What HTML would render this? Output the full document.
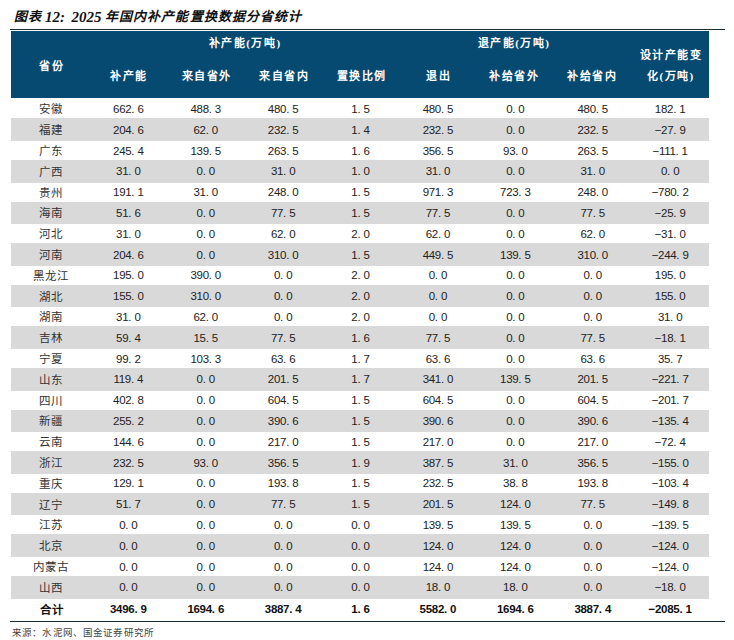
<!DOCTYPE html>
<html lang="zh-CN"><head><meta charset="utf-8">
<style>
*{margin:0;padding:0;box-sizing:border-box}
html,body{width:734px;height:640px;background:#fff;overflow:hidden}
body{position:relative;font-family:"Liberation Sans",sans-serif;color:#222}
.abs{position:absolute}
.title{position:absolute;left:0;top:7px;width:400px;height:20px;font-family:"Liberation Serif",serif;font-weight:bold;font-style:italic;font-size:14.5px;line-height:20px;color:#111;white-space:nowrap}
.title span{position:absolute;top:0}
.t1{left:14px;font-size:13px;letter-spacing:0.5px}
.t2{left:45px;font-size:15px}
.t3{left:71.5px;font-size:15px}
.t4{left:105px;font-size:13px;letter-spacing:1.1px}
.line{position:absolute;height:1px;background:#1c2e35}
.head{position:absolute;left:11px;top:31px;width:698px;height:67px;background:#064a72}
.h{position:absolute;color:#fff;font-family:"Liberation Serif",serif;font-weight:bold;font-size:11px;line-height:14px;text-align:center;white-space:nowrap;letter-spacing:1.5px}
.g{position:absolute;left:11px;width:698px;background:#d9d9d9}
.c{position:absolute;text-align:center;white-space:nowrap;font-size:12px;line-height:14px;color:#222}
.n{letter-spacing:-0.3px;font-size:11.5px}
.p{display:inline-block;width:6.1px;text-align:left}
.cn{font-family:"Liberation Serif",serif;font-size:11.5px;letter-spacing:1.0px;font-size:11.5px;color:#333}
.b{font-weight:bold;color:#111}
.src{position:absolute;left:12px;top:626.5px;font-family:"Liberation Serif",serif;font-size:9.5px;line-height:12px;color:#444;letter-spacing:0.15px;white-space:nowrap}
</style></head><body>

<div class="title"><span class="t1">图表</span><span class="t2">12:</span><span class="t3">2025</span><span class="t4">年国内补产能置换数据分省统计</span></div>
<div class="line" style="left:10px;top:29px;width:715px"></div>
<div class="head"></div>
<div class="h" style="left:-8.20px;top:58.50px;width:120px">省份</div>
<div class="h" style="left:185.15px;top:36.00px;width:120px">补产能(万吨)</div>
<div class="h" style="left:454.10px;top:36.00px;width:120px">退产能(万吨)</div>
<div class="h" style="left:69.20px;top:69.30px;width:120px">补产能</div>
<div class="h" style="left:146.90px;top:69.30px;width:120px">来自省外</div>
<div class="h" style="left:224.00px;top:69.30px;width:120px">来自省内</div>
<div class="h" style="left:301.80px;top:69.30px;width:120px">置换比例</div>
<div class="h" style="left:378.50px;top:69.30px;width:120px">退出</div>
<div class="h" style="left:454.40px;top:69.30px;width:120px">补给省外</div>
<div class="h" style="left:532.10px;top:69.30px;width:120px">补给省内</div>
<div class="h" style="left:610.85px;top:48.00px;width:120px">设计产能变</div>
<div class="h" style="left:610.85px;top:68.50px;width:120px">化(万吨)</div>
<div class="g" style="top:118.30px;height:22.70px"></div>
<div class="g" style="top:159.90px;height:22.70px"></div>
<div class="g" style="top:201.50px;height:22.70px"></div>
<div class="g" style="top:243.10px;height:22.70px"></div>
<div class="g" style="top:284.70px;height:22.70px"></div>
<div class="g" style="top:326.30px;height:22.70px"></div>
<div class="g" style="top:367.90px;height:22.70px"></div>
<div class="g" style="top:409.50px;height:22.70px"></div>
<div class="g" style="top:451.10px;height:22.70px"></div>
<div class="g" style="top:492.70px;height:22.70px"></div>
<div class="g" style="top:534.30px;height:22.70px"></div>
<div class="g" style="top:575.90px;height:22.70px"></div>
<div class="c cn" style="left:13.10px;top:102.40px;width:76px">安徽</div>
<div class="c n" style="left:90.30px;top:101.90px;width:76px">662<span class="p">.</span>6</div>
<div class="c n" style="left:167.70px;top:101.90px;width:76px">488<span class="p">.</span>3</div>
<div class="c n" style="left:245.10px;top:101.90px;width:76px">480<span class="p">.</span>5</div>
<div class="c n" style="left:322.50px;top:101.90px;width:76px">1<span class="p">.</span>5</div>
<div class="c n" style="left:399.90px;top:101.90px;width:76px">480<span class="p">.</span>5</div>
<div class="c n" style="left:477.30px;top:101.90px;width:76px">0<span class="p">.</span>0</div>
<div class="c n" style="left:554.70px;top:101.90px;width:76px">480<span class="p">.</span>5</div>
<div class="c n" style="left:632.10px;top:101.90px;width:76px">182<span class="p">.</span>1</div>
<div class="c cn" style="left:13.10px;top:123.20px;width:76px">福建</div>
<div class="c n" style="left:90.30px;top:122.70px;width:76px">204<span class="p">.</span>6</div>
<div class="c n" style="left:167.70px;top:122.70px;width:76px">62<span class="p">.</span>0</div>
<div class="c n" style="left:245.10px;top:122.70px;width:76px">232<span class="p">.</span>5</div>
<div class="c n" style="left:322.50px;top:122.70px;width:76px">1<span class="p">.</span>4</div>
<div class="c n" style="left:399.90px;top:122.70px;width:76px">232<span class="p">.</span>5</div>
<div class="c n" style="left:477.30px;top:122.70px;width:76px">0<span class="p">.</span>0</div>
<div class="c n" style="left:554.70px;top:122.70px;width:76px">232<span class="p">.</span>5</div>
<div class="c n" style="left:632.10px;top:122.70px;width:76px">−27<span class="p">.</span>9</div>
<div class="c cn" style="left:13.10px;top:144.00px;width:76px">广东</div>
<div class="c n" style="left:90.30px;top:143.50px;width:76px">245<span class="p">.</span>4</div>
<div class="c n" style="left:167.70px;top:143.50px;width:76px">139<span class="p">.</span>5</div>
<div class="c n" style="left:245.10px;top:143.50px;width:76px">263<span class="p">.</span>5</div>
<div class="c n" style="left:322.50px;top:143.50px;width:76px">1<span class="p">.</span>6</div>
<div class="c n" style="left:399.90px;top:143.50px;width:76px">356<span class="p">.</span>5</div>
<div class="c n" style="left:477.30px;top:143.50px;width:76px">93<span class="p">.</span>0</div>
<div class="c n" style="left:554.70px;top:143.50px;width:76px">263<span class="p">.</span>5</div>
<div class="c n" style="left:632.10px;top:143.50px;width:76px">−111<span class="p">.</span>1</div>
<div class="c cn" style="left:13.10px;top:164.80px;width:76px">广西</div>
<div class="c n" style="left:90.30px;top:164.30px;width:76px">31<span class="p">.</span>0</div>
<div class="c n" style="left:167.70px;top:164.30px;width:76px">0<span class="p">.</span>0</div>
<div class="c n" style="left:245.10px;top:164.30px;width:76px">31<span class="p">.</span>0</div>
<div class="c n" style="left:322.50px;top:164.30px;width:76px">1<span class="p">.</span>0</div>
<div class="c n" style="left:399.90px;top:164.30px;width:76px">31<span class="p">.</span>0</div>
<div class="c n" style="left:477.30px;top:164.30px;width:76px">0<span class="p">.</span>0</div>
<div class="c n" style="left:554.70px;top:164.30px;width:76px">31<span class="p">.</span>0</div>
<div class="c n" style="left:632.10px;top:164.30px;width:76px">0<span class="p">.</span>0</div>
<div class="c cn" style="left:13.10px;top:185.60px;width:76px">贵州</div>
<div class="c n" style="left:90.30px;top:185.10px;width:76px">191<span class="p">.</span>1</div>
<div class="c n" style="left:167.70px;top:185.10px;width:76px">31<span class="p">.</span>0</div>
<div class="c n" style="left:245.10px;top:185.10px;width:76px">248<span class="p">.</span>0</div>
<div class="c n" style="left:322.50px;top:185.10px;width:76px">1<span class="p">.</span>5</div>
<div class="c n" style="left:399.90px;top:185.10px;width:76px">971<span class="p">.</span>3</div>
<div class="c n" style="left:477.30px;top:185.10px;width:76px">723<span class="p">.</span>3</div>
<div class="c n" style="left:554.70px;top:185.10px;width:76px">248<span class="p">.</span>0</div>
<div class="c n" style="left:632.10px;top:185.10px;width:76px">−780<span class="p">.</span>2</div>
<div class="c cn" style="left:13.10px;top:206.40px;width:76px">海南</div>
<div class="c n" style="left:90.30px;top:205.90px;width:76px">51<span class="p">.</span>6</div>
<div class="c n" style="left:167.70px;top:205.90px;width:76px">0<span class="p">.</span>0</div>
<div class="c n" style="left:245.10px;top:205.90px;width:76px">77<span class="p">.</span>5</div>
<div class="c n" style="left:322.50px;top:205.90px;width:76px">1<span class="p">.</span>5</div>
<div class="c n" style="left:399.90px;top:205.90px;width:76px">77<span class="p">.</span>5</div>
<div class="c n" style="left:477.30px;top:205.90px;width:76px">0<span class="p">.</span>0</div>
<div class="c n" style="left:554.70px;top:205.90px;width:76px">77<span class="p">.</span>5</div>
<div class="c n" style="left:632.10px;top:205.90px;width:76px">−25<span class="p">.</span>9</div>
<div class="c cn" style="left:13.10px;top:227.20px;width:76px">河北</div>
<div class="c n" style="left:90.30px;top:226.70px;width:76px">31<span class="p">.</span>0</div>
<div class="c n" style="left:167.70px;top:226.70px;width:76px">0<span class="p">.</span>0</div>
<div class="c n" style="left:245.10px;top:226.70px;width:76px">62<span class="p">.</span>0</div>
<div class="c n" style="left:322.50px;top:226.70px;width:76px">2<span class="p">.</span>0</div>
<div class="c n" style="left:399.90px;top:226.70px;width:76px">62<span class="p">.</span>0</div>
<div class="c n" style="left:477.30px;top:226.70px;width:76px">0<span class="p">.</span>0</div>
<div class="c n" style="left:554.70px;top:226.70px;width:76px">62<span class="p">.</span>0</div>
<div class="c n" style="left:632.10px;top:226.70px;width:76px">−31<span class="p">.</span>0</div>
<div class="c cn" style="left:13.10px;top:248.00px;width:76px">河南</div>
<div class="c n" style="left:90.30px;top:247.50px;width:76px">204<span class="p">.</span>6</div>
<div class="c n" style="left:167.70px;top:247.50px;width:76px">0<span class="p">.</span>0</div>
<div class="c n" style="left:245.10px;top:247.50px;width:76px">310<span class="p">.</span>0</div>
<div class="c n" style="left:322.50px;top:247.50px;width:76px">1<span class="p">.</span>5</div>
<div class="c n" style="left:399.90px;top:247.50px;width:76px">449<span class="p">.</span>5</div>
<div class="c n" style="left:477.30px;top:247.50px;width:76px">139<span class="p">.</span>5</div>
<div class="c n" style="left:554.70px;top:247.50px;width:76px">310<span class="p">.</span>0</div>
<div class="c n" style="left:632.10px;top:247.50px;width:76px">−244<span class="p">.</span>9</div>
<div class="c cn" style="left:13.10px;top:268.80px;width:76px">黑龙江</div>
<div class="c n" style="left:90.30px;top:268.30px;width:76px">195<span class="p">.</span>0</div>
<div class="c n" style="left:167.70px;top:268.30px;width:76px">390<span class="p">.</span>0</div>
<div class="c n" style="left:245.10px;top:268.30px;width:76px">0<span class="p">.</span>0</div>
<div class="c n" style="left:322.50px;top:268.30px;width:76px">2<span class="p">.</span>0</div>
<div class="c n" style="left:399.90px;top:268.30px;width:76px">0<span class="p">.</span>0</div>
<div class="c n" style="left:477.30px;top:268.30px;width:76px">0<span class="p">.</span>0</div>
<div class="c n" style="left:554.70px;top:268.30px;width:76px">0<span class="p">.</span>0</div>
<div class="c n" style="left:632.10px;top:268.30px;width:76px">195<span class="p">.</span>0</div>
<div class="c cn" style="left:13.10px;top:289.60px;width:76px">湖北</div>
<div class="c n" style="left:90.30px;top:289.10px;width:76px">155<span class="p">.</span>0</div>
<div class="c n" style="left:167.70px;top:289.10px;width:76px">310<span class="p">.</span>0</div>
<div class="c n" style="left:245.10px;top:289.10px;width:76px">0<span class="p">.</span>0</div>
<div class="c n" style="left:322.50px;top:289.10px;width:76px">2<span class="p">.</span>0</div>
<div class="c n" style="left:399.90px;top:289.10px;width:76px">0<span class="p">.</span>0</div>
<div class="c n" style="left:477.30px;top:289.10px;width:76px">0<span class="p">.</span>0</div>
<div class="c n" style="left:554.70px;top:289.10px;width:76px">0<span class="p">.</span>0</div>
<div class="c n" style="left:632.10px;top:289.10px;width:76px">155<span class="p">.</span>0</div>
<div class="c cn" style="left:13.10px;top:310.40px;width:76px">湖南</div>
<div class="c n" style="left:90.30px;top:309.90px;width:76px">31<span class="p">.</span>0</div>
<div class="c n" style="left:167.70px;top:309.90px;width:76px">62<span class="p">.</span>0</div>
<div class="c n" style="left:245.10px;top:309.90px;width:76px">0<span class="p">.</span>0</div>
<div class="c n" style="left:322.50px;top:309.90px;width:76px">2<span class="p">.</span>0</div>
<div class="c n" style="left:399.90px;top:309.90px;width:76px">0<span class="p">.</span>0</div>
<div class="c n" style="left:477.30px;top:309.90px;width:76px">0<span class="p">.</span>0</div>
<div class="c n" style="left:554.70px;top:309.90px;width:76px">0<span class="p">.</span>0</div>
<div class="c n" style="left:632.10px;top:309.90px;width:76px">31<span class="p">.</span>0</div>
<div class="c cn" style="left:13.10px;top:331.20px;width:76px">吉林</div>
<div class="c n" style="left:90.30px;top:330.70px;width:76px">59<span class="p">.</span>4</div>
<div class="c n" style="left:167.70px;top:330.70px;width:76px">15<span class="p">.</span>5</div>
<div class="c n" style="left:245.10px;top:330.70px;width:76px">77<span class="p">.</span>5</div>
<div class="c n" style="left:322.50px;top:330.70px;width:76px">1<span class="p">.</span>6</div>
<div class="c n" style="left:399.90px;top:330.70px;width:76px">77<span class="p">.</span>5</div>
<div class="c n" style="left:477.30px;top:330.70px;width:76px">0<span class="p">.</span>0</div>
<div class="c n" style="left:554.70px;top:330.70px;width:76px">77<span class="p">.</span>5</div>
<div class="c n" style="left:632.10px;top:330.70px;width:76px">−18<span class="p">.</span>1</div>
<div class="c cn" style="left:13.10px;top:352.00px;width:76px">宁夏</div>
<div class="c n" style="left:90.30px;top:351.50px;width:76px">99<span class="p">.</span>2</div>
<div class="c n" style="left:167.70px;top:351.50px;width:76px">103<span class="p">.</span>3</div>
<div class="c n" style="left:245.10px;top:351.50px;width:76px">63<span class="p">.</span>6</div>
<div class="c n" style="left:322.50px;top:351.50px;width:76px">1<span class="p">.</span>7</div>
<div class="c n" style="left:399.90px;top:351.50px;width:76px">63<span class="p">.</span>6</div>
<div class="c n" style="left:477.30px;top:351.50px;width:76px">0<span class="p">.</span>0</div>
<div class="c n" style="left:554.70px;top:351.50px;width:76px">63<span class="p">.</span>6</div>
<div class="c n" style="left:632.10px;top:351.50px;width:76px">35<span class="p">.</span>7</div>
<div class="c cn" style="left:13.10px;top:372.80px;width:76px">山东</div>
<div class="c n" style="left:90.30px;top:372.30px;width:76px">119<span class="p">.</span>4</div>
<div class="c n" style="left:167.70px;top:372.30px;width:76px">0<span class="p">.</span>0</div>
<div class="c n" style="left:245.10px;top:372.30px;width:76px">201<span class="p">.</span>5</div>
<div class="c n" style="left:322.50px;top:372.30px;width:76px">1<span class="p">.</span>7</div>
<div class="c n" style="left:399.90px;top:372.30px;width:76px">341<span class="p">.</span>0</div>
<div class="c n" style="left:477.30px;top:372.30px;width:76px">139<span class="p">.</span>5</div>
<div class="c n" style="left:554.70px;top:372.30px;width:76px">201<span class="p">.</span>5</div>
<div class="c n" style="left:632.10px;top:372.30px;width:76px">−221<span class="p">.</span>7</div>
<div class="c cn" style="left:13.10px;top:393.60px;width:76px">四川</div>
<div class="c n" style="left:90.30px;top:393.10px;width:76px">402<span class="p">.</span>8</div>
<div class="c n" style="left:167.70px;top:393.10px;width:76px">0<span class="p">.</span>0</div>
<div class="c n" style="left:245.10px;top:393.10px;width:76px">604<span class="p">.</span>5</div>
<div class="c n" style="left:322.50px;top:393.10px;width:76px">1<span class="p">.</span>5</div>
<div class="c n" style="left:399.90px;top:393.10px;width:76px">604<span class="p">.</span>5</div>
<div class="c n" style="left:477.30px;top:393.10px;width:76px">0<span class="p">.</span>0</div>
<div class="c n" style="left:554.70px;top:393.10px;width:76px">604<span class="p">.</span>5</div>
<div class="c n" style="left:632.10px;top:393.10px;width:76px">−201<span class="p">.</span>7</div>
<div class="c cn" style="left:13.10px;top:414.40px;width:76px">新疆</div>
<div class="c n" style="left:90.30px;top:413.90px;width:76px">255<span class="p">.</span>2</div>
<div class="c n" style="left:167.70px;top:413.90px;width:76px">0<span class="p">.</span>0</div>
<div class="c n" style="left:245.10px;top:413.90px;width:76px">390<span class="p">.</span>6</div>
<div class="c n" style="left:322.50px;top:413.90px;width:76px">1<span class="p">.</span>5</div>
<div class="c n" style="left:399.90px;top:413.90px;width:76px">390<span class="p">.</span>6</div>
<div class="c n" style="left:477.30px;top:413.90px;width:76px">0<span class="p">.</span>0</div>
<div class="c n" style="left:554.70px;top:413.90px;width:76px">390<span class="p">.</span>6</div>
<div class="c n" style="left:632.10px;top:413.90px;width:76px">−135<span class="p">.</span>4</div>
<div class="c cn" style="left:13.10px;top:435.20px;width:76px">云南</div>
<div class="c n" style="left:90.30px;top:434.70px;width:76px">144<span class="p">.</span>6</div>
<div class="c n" style="left:167.70px;top:434.70px;width:76px">0<span class="p">.</span>0</div>
<div class="c n" style="left:245.10px;top:434.70px;width:76px">217<span class="p">.</span>0</div>
<div class="c n" style="left:322.50px;top:434.70px;width:76px">1<span class="p">.</span>5</div>
<div class="c n" style="left:399.90px;top:434.70px;width:76px">217<span class="p">.</span>0</div>
<div class="c n" style="left:477.30px;top:434.70px;width:76px">0<span class="p">.</span>0</div>
<div class="c n" style="left:554.70px;top:434.70px;width:76px">217<span class="p">.</span>0</div>
<div class="c n" style="left:632.10px;top:434.70px;width:76px">−72<span class="p">.</span>4</div>
<div class="c cn" style="left:13.10px;top:456.00px;width:76px">浙江</div>
<div class="c n" style="left:90.30px;top:455.50px;width:76px">232<span class="p">.</span>5</div>
<div class="c n" style="left:167.70px;top:455.50px;width:76px">93<span class="p">.</span>0</div>
<div class="c n" style="left:245.10px;top:455.50px;width:76px">356<span class="p">.</span>5</div>
<div class="c n" style="left:322.50px;top:455.50px;width:76px">1<span class="p">.</span>9</div>
<div class="c n" style="left:399.90px;top:455.50px;width:76px">387<span class="p">.</span>5</div>
<div class="c n" style="left:477.30px;top:455.50px;width:76px">31<span class="p">.</span>0</div>
<div class="c n" style="left:554.70px;top:455.50px;width:76px">356<span class="p">.</span>5</div>
<div class="c n" style="left:632.10px;top:455.50px;width:76px">−155<span class="p">.</span>0</div>
<div class="c cn" style="left:13.10px;top:476.80px;width:76px">重庆</div>
<div class="c n" style="left:90.30px;top:476.30px;width:76px">129<span class="p">.</span>1</div>
<div class="c n" style="left:167.70px;top:476.30px;width:76px">0<span class="p">.</span>0</div>
<div class="c n" style="left:245.10px;top:476.30px;width:76px">193<span class="p">.</span>8</div>
<div class="c n" style="left:322.50px;top:476.30px;width:76px">1<span class="p">.</span>5</div>
<div class="c n" style="left:399.90px;top:476.30px;width:76px">232<span class="p">.</span>5</div>
<div class="c n" style="left:477.30px;top:476.30px;width:76px">38<span class="p">.</span>8</div>
<div class="c n" style="left:554.70px;top:476.30px;width:76px">193<span class="p">.</span>8</div>
<div class="c n" style="left:632.10px;top:476.30px;width:76px">−103<span class="p">.</span>4</div>
<div class="c cn" style="left:13.10px;top:497.60px;width:76px">辽宁</div>
<div class="c n" style="left:90.30px;top:497.10px;width:76px">51<span class="p">.</span>7</div>
<div class="c n" style="left:167.70px;top:497.10px;width:76px">0<span class="p">.</span>0</div>
<div class="c n" style="left:245.10px;top:497.10px;width:76px">77<span class="p">.</span>5</div>
<div class="c n" style="left:322.50px;top:497.10px;width:76px">1<span class="p">.</span>5</div>
<div class="c n" style="left:399.90px;top:497.10px;width:76px">201<span class="p">.</span>5</div>
<div class="c n" style="left:477.30px;top:497.10px;width:76px">124<span class="p">.</span>0</div>
<div class="c n" style="left:554.70px;top:497.10px;width:76px">77<span class="p">.</span>5</div>
<div class="c n" style="left:632.10px;top:497.10px;width:76px">−149<span class="p">.</span>8</div>
<div class="c cn" style="left:13.10px;top:518.40px;width:76px">江苏</div>
<div class="c n" style="left:90.30px;top:517.90px;width:76px">0<span class="p">.</span>0</div>
<div class="c n" style="left:167.70px;top:517.90px;width:76px">0<span class="p">.</span>0</div>
<div class="c n" style="left:245.10px;top:517.90px;width:76px">0<span class="p">.</span>0</div>
<div class="c n" style="left:322.50px;top:517.90px;width:76px">0<span class="p">.</span>0</div>
<div class="c n" style="left:399.90px;top:517.90px;width:76px">139<span class="p">.</span>5</div>
<div class="c n" style="left:477.30px;top:517.90px;width:76px">139<span class="p">.</span>5</div>
<div class="c n" style="left:554.70px;top:517.90px;width:76px">0<span class="p">.</span>0</div>
<div class="c n" style="left:632.10px;top:517.90px;width:76px">−139<span class="p">.</span>5</div>
<div class="c cn" style="left:13.10px;top:539.20px;width:76px">北京</div>
<div class="c n" style="left:90.30px;top:538.70px;width:76px">0<span class="p">.</span>0</div>
<div class="c n" style="left:167.70px;top:538.70px;width:76px">0<span class="p">.</span>0</div>
<div class="c n" style="left:245.10px;top:538.70px;width:76px">0<span class="p">.</span>0</div>
<div class="c n" style="left:322.50px;top:538.70px;width:76px">0<span class="p">.</span>0</div>
<div class="c n" style="left:399.90px;top:538.70px;width:76px">124<span class="p">.</span>0</div>
<div class="c n" style="left:477.30px;top:538.70px;width:76px">124<span class="p">.</span>0</div>
<div class="c n" style="left:554.70px;top:538.70px;width:76px">0<span class="p">.</span>0</div>
<div class="c n" style="left:632.10px;top:538.70px;width:76px">−124<span class="p">.</span>0</div>
<div class="c cn" style="left:13.10px;top:560.00px;width:76px">内蒙古</div>
<div class="c n" style="left:90.30px;top:559.50px;width:76px">0<span class="p">.</span>0</div>
<div class="c n" style="left:167.70px;top:559.50px;width:76px">0<span class="p">.</span>0</div>
<div class="c n" style="left:245.10px;top:559.50px;width:76px">0<span class="p">.</span>0</div>
<div class="c n" style="left:322.50px;top:559.50px;width:76px">0<span class="p">.</span>0</div>
<div class="c n" style="left:399.90px;top:559.50px;width:76px">124<span class="p">.</span>0</div>
<div class="c n" style="left:477.30px;top:559.50px;width:76px">124<span class="p">.</span>0</div>
<div class="c n" style="left:554.70px;top:559.50px;width:76px">0<span class="p">.</span>0</div>
<div class="c n" style="left:632.10px;top:559.50px;width:76px">−124<span class="p">.</span>0</div>
<div class="c cn" style="left:13.10px;top:580.80px;width:76px">山西</div>
<div class="c n" style="left:90.30px;top:580.30px;width:76px">0<span class="p">.</span>0</div>
<div class="c n" style="left:167.70px;top:580.30px;width:76px">0<span class="p">.</span>0</div>
<div class="c n" style="left:245.10px;top:580.30px;width:76px">0<span class="p">.</span>0</div>
<div class="c n" style="left:322.50px;top:580.30px;width:76px">0<span class="p">.</span>0</div>
<div class="c n" style="left:399.90px;top:580.30px;width:76px">18<span class="p">.</span>0</div>
<div class="c n" style="left:477.30px;top:580.30px;width:76px">18<span class="p">.</span>0</div>
<div class="c n" style="left:554.70px;top:580.30px;width:76px">0<span class="p">.</span>0</div>
<div class="c n" style="left:632.10px;top:580.30px;width:76px">−18<span class="p">.</span>0</div>
<div class="c cn b" style="left:13.50px;top:602.50px;width:76px">合计</div>
<div class="c n b" style="left:90.30px;top:601.50px;width:76px">3496<span class="p">.</span>9</div>
<div class="c n b" style="left:167.70px;top:601.50px;width:76px">1694<span class="p">.</span>6</div>
<div class="c n b" style="left:245.10px;top:601.50px;width:76px">3887<span class="p">.</span>4</div>
<div class="c n b" style="left:322.50px;top:601.50px;width:76px">1<span class="p">.</span>6</div>
<div class="c n b" style="left:399.90px;top:601.50px;width:76px">5582<span class="p">.</span>0</div>
<div class="c n b" style="left:477.30px;top:601.50px;width:76px">1694<span class="p">.</span>6</div>
<div class="c n b" style="left:554.70px;top:601.50px;width:76px">3887<span class="p">.</span>4</div>
<div class="c n b" style="left:632.10px;top:601.50px;width:76px">−2085<span class="p">.</span>1</div>
<div class="line" style="left:10px;top:621px;width:715px"></div>
<div class="src">来源：水泥网、国金证券研究所</div>
</body></html>
